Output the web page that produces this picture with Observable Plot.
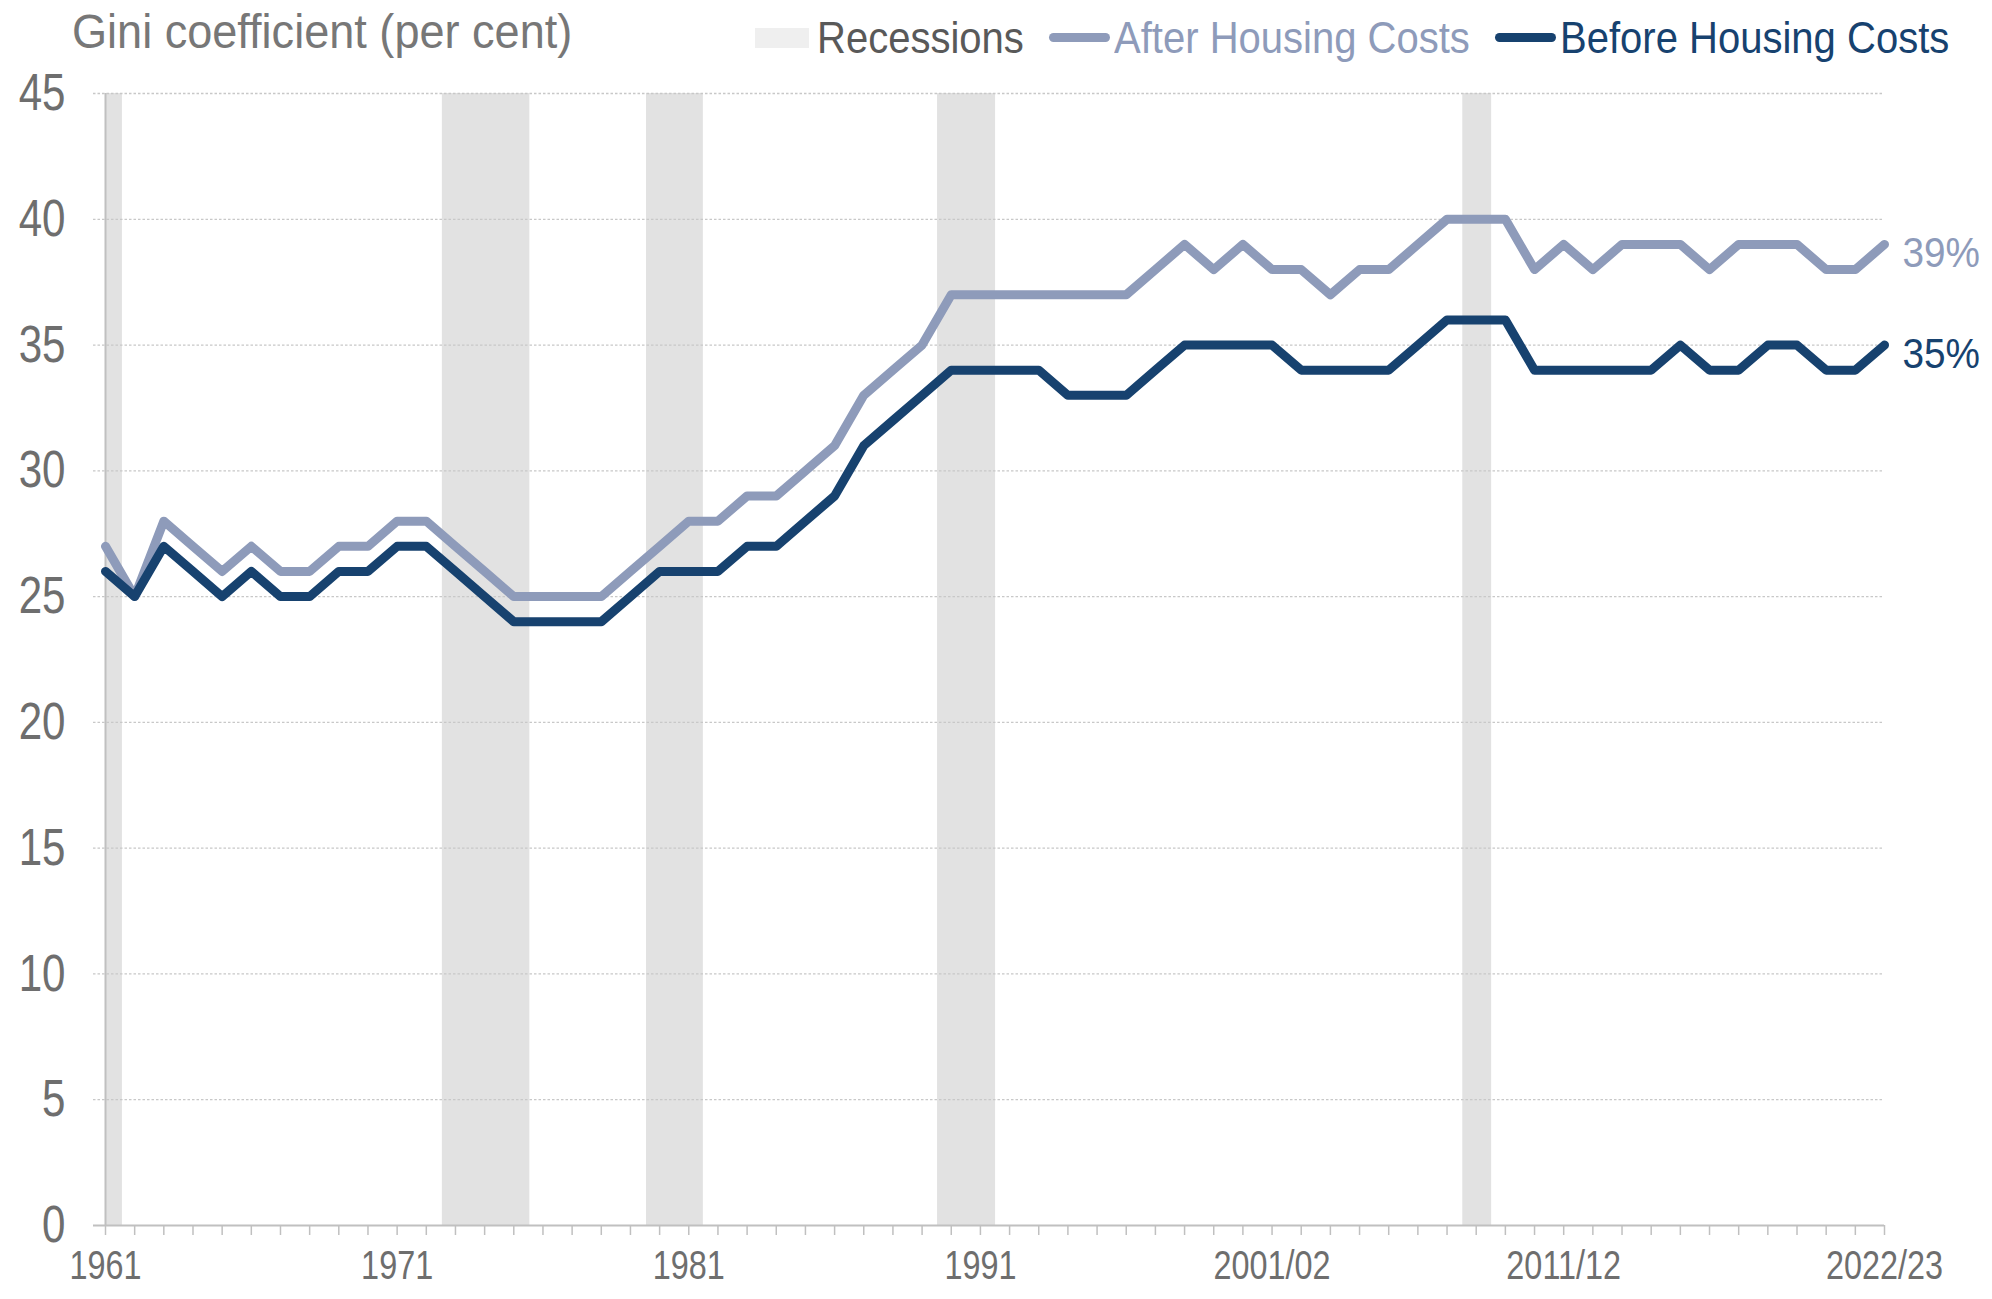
<!DOCTYPE html>
<html><head><meta charset="utf-8">
<script src="https://cdn.jsdelivr.net/npm/d3@7"></script>
<script src="https://cdn.jsdelivr.net/npm/@observablehq/plot@0.6"></script>
<style>
html,body{margin:0;padding:0;background:#fff;}
body{width:1992px;height:1299px;overflow:hidden;font-family:"Liberation Sans",Arial,Helvetica,sans-serif;}
#header{position:relative;width:1992px;height:62px;}
.t{position:absolute;white-space:nowrap;transform-origin:0 0;transform:scaleX(0.92);line-height:1;}
.sw{position:absolute;}
</style></head><body>
<div id="header"></div>
<div id="chart"></div>
<script>
// ---- data ----
const years = [];
for (let y = 1961; y <= 1992; y++) years.push(String(y));
for (let y = 1993; y <= 2022; y++) years.push(y + "/" + String(y + 1).slice(2));

const afterHousingCosts = [27,25,28,27,26,27,26,26,27,27,28,28,27,26,25,25,25,25,26,27,28,28,29,29,30,31,33,34,35,37,37,37,37,37,37,37,38,39,38,39,38,38,37,38,38,39,40,40,40,38,39,38,39,39,39,38,39,39,39,38,38,39];
const beforeHousingCosts = [26,25,27,26,25,26,25,25,26,26,27,27,26,25,24,24,24,24,25,26,26,26,27,27,28,29,31,32,33,34,34,34,34,33,33,33,34,35,35,35,35,34,34,34,34,35,36,36,36,34,34,34,34,34,35,34,34,35,35,34,34,35];

// recession periods, in units of the category index (0 = 1961)
const recessionStart = [0, 11.55, 18.55, 28.53, 46.54];
const recessionEnd   = [0.58, 14.55, 20.5, 30.52, 47.53];

const xTickLabels = ["1961","1971","1981","1991","2001/02","2011/12","2022/23"];
const yTicks = [0,5,10,15,20,25,30,35,40,45];

const seriesNames = ["Recessions","After Housing Costs","Before Housing Costs"];
const colors = {ahc:"#8E9BBA", bhc:"#17426F", rec:"#E2E2E2", recLegend:"#EFEFEF", tick:"#6E6E6E", title:"#777777", legendText:"#595959", axis:"#C0C0C0", grid:"#C8C8C8"};

// ---- build ----
const rows = years.map((label, i) => ({i, label, ahc: afterHousingCosts[i], bhc: beforeHousingCosts[i]}));
const recessions = recessionStart.map((s, k) => ({start: s, end: recessionEnd[k]}));
const tickIdx = xTickLabels.map(l => years.indexOf(l));
const last = rows[rows.length - 1];

// header: title + legend
const header = document.getElementById("header");
function addText(txt, left, top, size, color) {
  const d = document.createElement("div");
  d.className = "t"; d.textContent = txt;
  d.style.left = left + "px"; d.style.top = top + "px";
  d.style.fontSize = size + "px"; d.style.color = color;
  header.appendChild(d);
}
function addSw(left, top, w, h, color, r) {
  const d = document.createElement("div");
  d.className = "sw";
  Object.assign(d.style, {left: left + "px", top: top + "px", width: w + "px", height: h + "px", background: color, borderRadius: (r || 0) + "px"});
  header.appendChild(d);
}
addText("Gini coefficient (per cent)", 72, 7, 49, colors.title);
addSw(755, 28, 54, 20, colors.recLegend);
addText(seriesNames[0], 817, 17, 43.5, colors.legendText);
addSw(1049, 33, 61, 9, colors.ahc, 4.5);
addText(seriesNames[1], 1114, 17, 43.5, colors.ahc);
addSw(1495, 33, 61, 9, colors.bhc, 4.5);
addText(seriesNames[2], 1560, 17, 43.5, colors.bhc);

const chart = Plot.plot({
  width: 1992, height: 1237,
  marginLeft: 105, marginRight: 108, marginTop: 31, marginBottom: 74,
  x: {domain: [0, years.length - 1], axis: null},
  y: {domain: [0, 45], axis: null},
  style: {fontFamily: '"Liberation Sans", Arial, sans-serif', background: "white", overflow: "visible"},
  marks: [
    Plot.rect(recessions, {x1: "start", x2: "end", fill: colors.rec}),
    Plot.gridY(yTicks.filter(d => d > 0), {stroke: colors.grid, strokeOpacity: 1, strokeWidth: 1.3, strokeDasharray: "2.5,2", insetLeft: -12}),
    Plot.ruleX([0], {stroke: colors.axis, strokeWidth: 2}),
    Plot.ruleY([0], {stroke: colors.axis, strokeWidth: 2, insetLeft: -12}),
    Plot.axisX(d3.range(years.length), {tickSize: 10, tickFormat: () => "", stroke: colors.axis, strokeWidth: 1.5}),
    Plot.axisX(tickIdx, {tickSize: 0, tickPadding: 25, tickFormat: i => years[i], fontSize: 40, fill: colors.tick}),
    Plot.axisY(yTicks, {tickSize: 0, tickPadding: 40, fontSize: 52, fill: colors.tick}),
    Plot.line(rows, {x: "i", y: "ahc", stroke: colors.ahc, strokeWidth: 9}),
    Plot.line(rows, {x: "i", y: "bhc", stroke: colors.bhc, strokeWidth: 9}),
    Plot.text([last], {x: "i", y: "ahc", text: d => d.ahc + "%", textAnchor: "start", dx: 18, dy: 9, fontSize: 43, fill: colors.ahc}),
    Plot.text([last], {x: "i", y: "bhc", text: d => d.bhc + "%", textAnchor: "start", dx: 18, dy: 9, fontSize: 43, fill: colors.bhc})
  ]
});
document.getElementById("chart").appendChild(chart);
// horizontal condensing of the text, as in the reference
for (const t of chart.querySelectorAll("text")) {
  const L = t.getComputedTextLength();
  const f = /%$/.test(t.textContent) ? 0.9 : 0.81;
  if (L > 0) { t.setAttribute("textLength", L * f); t.setAttribute("lengthAdjust", "spacingAndGlyphs"); }
}
</script>
</body></html>
